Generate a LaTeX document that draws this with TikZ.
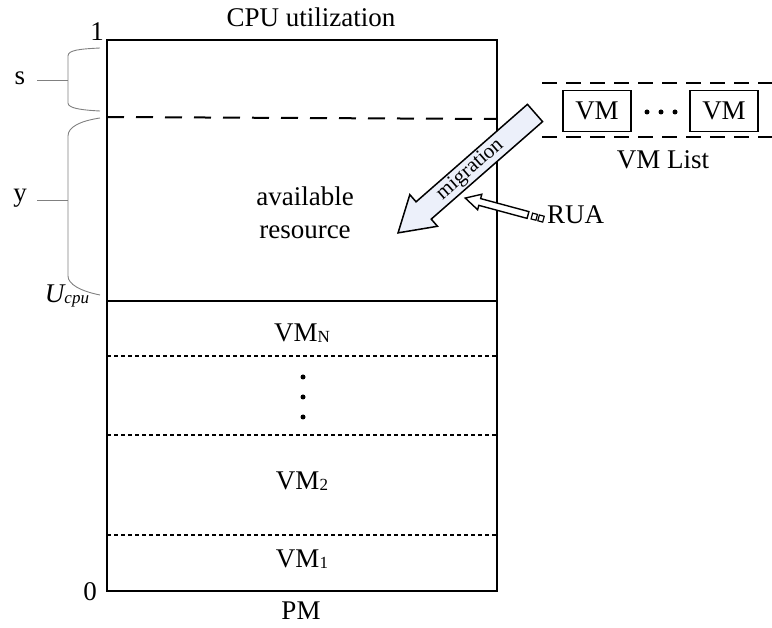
\documentclass[tikz,border=0pt]{standalone}
\usepackage{fontspec}
\setmainfont{Liberation Serif}
\newcommand\mysub[1]{\raisebox{-1pt}{\fontsize{17}{17}\selectfont #1}}
\definecolor{arrowfill}{RGB}{236,240,250}
\begin{document}
\begin{tikzpicture}[x=1pt,y=-1pt,
  lbl/.style={font=\fontsize{27}{33}\selectfont, inner sep=0pt},
  brace/.style={draw=black!50, line width=0.9pt},
  frame/.style={draw=black, line width=2pt},
  sep/.style={draw=black, line width=1.6pt, dash pattern=on 4pt off 3pt},
  vmbox/.style={draw=black, line width=1.5pt, minimum width=68pt, minimum height=41pt, inner sep=0pt, font=\fontsize{27}{28}\selectfont},
  bigarrow/.style={draw=black, line width=1.5pt, fill=arrowfill},
  dot/.style={circle, fill=black, inner sep=0pt, minimum size=5pt}]
\useasboundingbox (0,0) rectangle (772,628);
% main PM box
\coordinate (tl) at (107,40);
\coordinate (br) at (497,591);
\draw[frame] (tl) rectangle (br);
\coordinate (dL) at (107,117);
\coordinate (dR) at (497,119);
\draw[line width=2pt, dash pattern=on 17pt off 12pt] (dL) -- (dR);
\coordinate (uL) at (107,301);
\coordinate (uR) at (497,301);
\draw[line width=2.5pt] (uL) -- (uR);
\coordinate (a1) at (107,356); \coordinate (a2) at (497,356);
\coordinate (b1) at (107,435); \coordinate (b2) at (497,435);
\coordinate (c1) at (107,535); \coordinate (c2) at (497,535);
\draw[sep] (a1) -- (a2);
\draw[sep] (b1) -- (b2);
\draw[sep] (c1) -- (c2);
% labels
\node[lbl] (title) at (311,17) {CPU utilization};
\node[lbl] (one) at (97,32) {1};
\node[lbl] (zero) at (90,592) {0};
\node[lbl] (pm) at (301,611) {PM};
\node[lbl, align=center] (avail) at (305,213) {available\\resource};
\node[lbl] (vmn) at (302,333) {VM\mysub{N}};
\node[dot] (e1) at (303,377) {};
\node[dot] (e2) at (303,397) {};
\node[dot] (e3) at (303,417) {};
\node[lbl] (vm2) at (302,481) {VM\mysub{2}};
\node[lbl] (vm1) at (302,559) {VM\mysub{1}};
% braces
\node[lbl] (s) at (20,78) {s};
\node[lbl] (y) at (20,198) {y};
\node[lbl] (ucpu) at (67,296) {\itshape U\mysub{\itshape cpu}};
\draw[brace] (100,48) .. controls (80,49) and (68,50) .. (68,56) -- (68,103) .. controls (68,108) and (80,110) .. (100,111);
\draw[brace] (37,80) -- (68,80);
\draw[brace] (100,118) .. controls (80,121) and (68,127) .. (68,136) -- (68,276) .. controls (68,284) and (80,291) .. (100,295);
\draw[brace] (37,200) -- (68,200);
% VM list
\coordinate (l1a) at (542,83); \coordinate (l1b) at (772,83);
\coordinate (l2a) at (542,137); \coordinate (l2b) at (772,137);
\draw[line width=2pt, dash pattern=on 15pt off 9pt] (l1a) -- (l1b);
\draw[line width=2pt, dash pattern=on 15pt off 9pt] (l2a) -- (l2b);
\node[vmbox] (vmA) at (597,111) {VM};
\node[vmbox] (vmB) at (724,111) {VM};
\node[dot] (d1) at (647,112) {};
\node[dot] (d2) at (661,112) {};
\node[dot] (d3) at (675,112) {};
\node[lbl] (vmlist) at (663,160) {VM List};
% migration arrow
\begin{scope}[shift={(535,113)}, rotate=221.2]
\draw[bigarrow] (0,-11.5) -- (148,-11.5) -- (148,-21) -- (182,0) -- (148,21) -- (148,11.5) -- (0,11.5) -- cycle;
\node[font=\fontsize{21}{22}\selectfont, rotate=41.2, inner sep=0pt] (mig) at (86,0) {migration};
\end{scope}
% RUA arrow
\begin{scope}[shift={(528,215)}, rotate=164.9]
\draw[draw=black, line width=1.4pt, fill=white] (0,-3.5) -- (50,-3.5) -- (50,-8) -- (65,0) -- (50,8) -- (50,3.5) -- (0,3.5) -- cycle;
\draw[line width=1.2pt] (-4,-3) rectangle (-9,3);
\draw[line width=1.2pt] (-11,-3) rectangle (-16,3);
\end{scope}
\node[lbl, anchor=west] (rua) at (547,215) {RUA};
\end{tikzpicture}
\end{document}
